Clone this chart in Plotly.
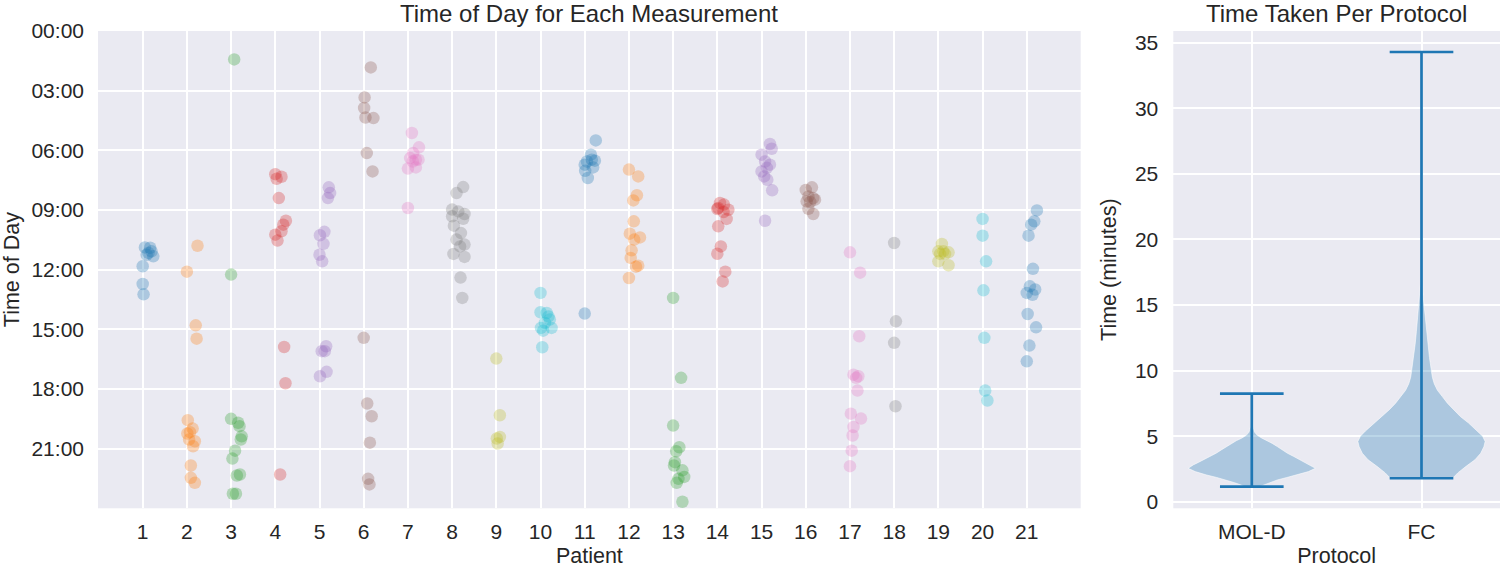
import plotly.graph_objects as go

# ---------------- data: time of day (hours) per patient ----------------
patients = list(range(1, 22))

t_p01 = [10.88, 10.90, 11.08, 11.16, 11.25, 11.33, 11.83, 12.72, 13.24]
t_p02 = [10.80, 12.10, 14.80, 15.47, 19.57, 19.99, 20.17, 20.24, 20.54, 20.63, 20.88, 21.85, 22.47, 22.72]
t_p03 = [1.43, 12.25, 19.50, 19.70, 19.87, 20.38, 20.54, 21.10, 21.50, 22.30, 22.35, 23.27, 23.27]
t_p04 = [7.20, 7.33, 7.43, 8.40, 9.54, 9.74, 10.07, 10.24, 10.54, 15.89, 17.71, 22.30]
t_p05 = [7.86, 8.15, 8.40, 10.10, 10.27, 10.70, 11.25, 11.58, 15.85, 16.10, 16.10, 17.14, 17.36]
t_p06 = [1.83, 3.34, 3.87, 4.35, 4.38, 6.14, 7.06, 15.43, 18.73, 19.37, 20.70, 22.52, 22.80]
t_p07 = [5.13, 5.85, 6.14, 6.39, 6.47, 6.56, 6.47, 6.92, 6.86, 8.90]
t_p08 = [7.85, 8.15, 8.98, 9.07, 9.20, 9.32, 9.44, 9.79, 10.16, 10.49, 10.74, 10.83, 11.21, 11.36, 12.40, 13.42]
t_p09 = [16.47, 19.32, 20.41, 20.49, 20.74]
t_p10 = [13.17, 14.14, 14.18, 14.35, 14.51, 14.68, 14.93, 14.93, 15.07, 15.90]
t_p11 = [5.50, 6.22, 6.47, 6.52, 6.56, 6.72, 6.86, 7.03, 7.39, 14.21]
t_p12 = [6.97, 7.31, 8.26, 8.52, 9.57, 10.19, 10.38, 10.49, 11.03, 11.41, 11.80, 11.85, 12.42]
t_p13 = [13.42, 17.44, 19.84, 20.93, 21.13, 21.68, 21.85, 22.09, 22.42, 22.52, 22.72, 23.67]
t_p14 = [8.65, 8.73, 8.90, 8.95, 8.99, 9.10, 9.45, 9.82, 10.83, 11.20, 12.10, 12.59]
t_p15 = [5.68, 5.92, 6.22, 6.56, 6.72, 6.88, 7.06, 7.31, 7.48, 8.01, 9.54]
t_p16 = [7.86, 7.99, 8.32, 8.40, 8.48, 8.60, 8.57, 8.94, 9.20]
t_p17 = [11.13, 12.15, 15.35, 17.28, 17.36, 17.44, 18.08, 19.24, 19.49, 19.91, 20.34, 21.10, 21.88]
t_p18 = [10.66, 14.60, 15.68, 18.87]
t_p19 = [10.71, 11.08, 11.08, 11.13, 11.21, 11.21, 11.58, 11.78]
t_p20 = [9.45, 10.29, 11.58, 13.04, 15.43, 18.08, 18.58]
t_p21 = [9.02, 9.57, 9.74, 10.29, 11.96, 12.84, 13.00, 13.17, 13.26, 14.23, 14.90, 15.82, 16.61]

# horizontal strip jitter (in patient units)
j_p01 = [0.05, 0.17, 0.20, 0.13, 0.09, 0.24, 0.00, 0.00, 0.02]
j_p02 = [0.24, 0.00, 0.20, 0.22, 0.02, 0.13, 0.07, 0.01, 0.05, 0.18, 0.14, 0.09, 0.09, 0.18]
j_p03 = [0.07, 0.00, 0.00, 0.16, 0.19, 0.24, 0.22, 0.09, 0.03, 0.20, 0.13, 0.04, 0.11]
j_p04 = [0.00, 0.14, 0.03, 0.08, 0.24, 0.18, 0.14, 0.00, 0.05, 0.20, 0.23, 0.11]
j_p05 = [0.21, 0.24, 0.19, 0.11, 0.01, 0.09, 0.00, 0.06, 0.15, 0.05, 0.12, 0.16, 0.01]
j_p06 = [0.16, 0.02, 0.01, 0.04, 0.22, 0.07, 0.20, 0.00, 0.08, 0.18, 0.14, 0.10, 0.13]
j_p07 = [0.09, 0.25, 0.12, 0.05, 0.18, 0.11, 0.24, 0.00, 0.18, 0.00]
j_p08 = [0.25, 0.10, 0.00, 0.14, 0.28, 0.00, 0.25, 0.04, 0.20, 0.10, 0.28, 0.18, 0.03, 0.28, 0.19, 0.23]
j_p09 = [0.00, 0.08, 0.08, 0.01, 0.03]
j_p10 = [0.00, 0.00, 0.14, 0.18, 0.21, 0.10, 0.01, 0.25, 0.06, 0.04]
j_p11 = [0.25, 0.14, 0.16, 0.23, 0.05, 0.00, 0.19, 0.01, 0.07, 0.00]
j_p12 = [0.00, 0.21, 0.18, 0.10, 0.11, 0.02, 0.25, 0.12, 0.06, 0.04, 0.21, 0.16, 0.00]
j_p13 = [0.00, 0.18, 0.00, 0.14, 0.07, 0.04, 0.02, 0.21, 0.25, 0.12, 0.08, 0.21]
j_p14 = [0.06, 0.15, 0.02, 0.00, 0.25, 0.14, 0.21, 0.02, 0.08, 0.00, 0.18, 0.12]
j_p15 = [0.19, 0.23, 0.00, 0.08, 0.19, 0.12, 0.00, 0.06, 0.13, 0.24, 0.08]
j_p16 = [0.14, 0.00, 0.06, 0.17, 0.21, 0.10, 0.02, 0.06, 0.17]
j_p17 = [0.00, 0.23, 0.21, 0.08, 0.19, 0.14, 0.17, 0.02, 0.25, 0.08, 0.06, 0.04, 0.00]
j_p18 = [0.00, 0.04, 0.00, 0.03]
j_p19 = [0.08, 0.00, 0.11, 0.23, 0.04, 0.15, 0.00, 0.23]
j_p20 = [0.00, 0.00, 0.08, 0.02, 0.04, 0.06, 0.11]
j_p21 = [0.23, 0.17, 0.10, 0.04, 0.14, 0.07, 0.19, 0.00, 0.13, 0.02, 0.21, 0.06, 0.00]

times = [t_p01, t_p02, t_p03, t_p04, t_p05, t_p06, t_p07, t_p08, t_p09, t_p10, t_p11,
         t_p12, t_p13, t_p14, t_p15, t_p16, t_p17, t_p18, t_p19, t_p20, t_p21]
jitters = [j_p01, j_p02, j_p03, j_p04, j_p05, j_p06, j_p07, j_p08, j_p09, j_p10, j_p11,
           j_p12, j_p13, j_p14, j_p15, j_p16, j_p17, j_p18, j_p19, j_p20, j_p21]

hour_ticks = [0, 3, 6, 9, 12, 15, 18, 21]
hour_labels = ["00:00", "03:00", "06:00", "09:00", "12:00", "15:00", "18:00", "21:00"]

# ---------------- data: time taken per protocol (minutes) ----------------
protocols = ["MOL-D", "FC"]
protocol_min = [1.15, 1.79]
protocol_max = [8.25, 34.3]

# density profiles (relative, max = 1)
mold_level = [1.15, 1.28, 1.45, 1.66, 1.85, 2.04, 2.30, 2.55, 2.81, 3.00, 3.19, 3.45, 3.70,
              3.95, 4.21, 4.45, 4.65, 4.85, 5.05, 5.30, 5.70, 6.20, 7.00, 8.25]
mold_density = [0.12, 0.17, 0.27, 0.40, 0.55, 0.71, 0.89, 1.00, 0.92, 0.84, 0.76, 0.66, 0.56,
                0.48, 0.40, 0.32, 0.245, 0.16, 0.09, 0.045, 0.02, 0.012, 0.008, 0.005]
fc_level = [1.79, 2.2, 2.7, 3.2, 3.7, 4.2, 4.6, 5.0, 5.4, 6.0, 6.5, 7.0, 7.5, 8.0, 8.5, 9.0,
            9.5, 10.0, 11.0, 12.0, 13.0, 14.0, 15.0, 16.0, 17.0, 20.0, 25.0, 30.0, 34.3]
fc_density = [0.49, 0.57, 0.70, 0.84, 0.93, 0.98, 1.00, 0.96, 0.88, 0.74, 0.61, 0.51, 0.41,
              0.33, 0.25, 0.20, 0.17, 0.155, 0.125, 0.10, 0.08, 0.06, 0.04, 0.02, 0.01,
              0.006, 0.004, 0.003, 0.002]

# ---------------- style ----------------
TAB10 = ["#1f77b4", "#ff7f0e", "#2ca02c", "#d62728", "#9467bd",
         "#8c564b", "#e377c2", "#7f7f7f", "#bcbd22", "#17becf"]
FONT = "Arial, 'Liberation Sans', sans-serif"
TXT = "#262626"
BG = "#EAEAF2"
GRIDW = 1.7
VIOLIN_HALF = 0.375   # widths = 0.75
CAP_HALF = 0.1875

fig = go.Figure()

# strip plot
for i, (p, ts, js) in enumerate(zip(patients, times, jitters)):
    fig.add_trace(go.Scatter(
        x=[p + j for j in js], y=ts, mode="markers",
        marker=dict(size=12.5, color=TAB10[i % 10], opacity=0.3, line=dict(width=0)),
        xaxis="x", yaxis="y", showlegend=False, hoverinfo="x+y"))

# violins
profiles = [(mold_level, mold_density), (fc_level, fc_density)]
for k, (lev, den) in enumerate(profiles):
    pos = k + 1
    xs = [pos - d * VIOLIN_HALF for d in den] + [pos + d * VIOLIN_HALF for d in den[::-1]]
    ys = lev + lev[::-1]
    fig.add_trace(go.Scatter(
        x=xs, y=ys, mode="lines", fill="toself",
        fillcolor="rgba(31,119,180,0.3)",
        line=dict(color="rgba(255,255,255,0.55)", width=1),
        xaxis="x2", yaxis="y2", showlegend=False, hoverinfo="skip"))

# extrema bars
for k in range(len(protocols)):
    pos = k + 1
    mn, mx = protocol_min[k], protocol_max[k]
    fig.add_trace(go.Scatter(
        x=[pos - CAP_HALF, pos + CAP_HALF, None, pos - CAP_HALF, pos + CAP_HALF, None, pos, pos],
        y=[mn, mn, None, mx, mx, None, mn, mx],
        mode="lines", line=dict(color="#1f77b4", width=2.7),
        xaxis="x2", yaxis="y2", showlegend=False, hoverinfo="skip"))

W, H = 1500, 568
top_px, bot_px = 31.0, 508.3
ydom = [1 - bot_px / H, 1 - top_px / H]

axis_common = dict(showgrid=True, gridcolor="white", gridwidth=GRIDW, zeroline=False,
                   showline=False, ticks="", automargin=False,
                   tickfont=dict(size=21, color=TXT, family=FONT))

fig.update_layout(
    width=W, height=H, margin=dict(l=0, r=0, t=0, b=0, autoexpand=False),
    paper_bgcolor="white", plot_bgcolor=BG,
    font=dict(family=FONT, color=TXT),
    xaxis=dict(domain=[98.0 / W, 1080.7 / W], range=[-0.011, 22.22], anchor="y",
               tickmode="array", tickvals=patients, ticktext=[str(p) for p in patients],
               ticklabelstandoff=9,
               title=dict(text="Patient", font=dict(size=21.5, color=TXT), standoff=11),
               **axis_common),
    yaxis=dict(domain=ydom, range=[24, 0], anchor="x",
               tickmode="array", tickvals=hour_ticks, ticktext=hour_labels,
               ticklabelstandoff=13,
               title=dict(text="Time of Day", font=dict(size=21.5, color=TXT), standoff=5),
               **axis_common),
    xaxis2=dict(domain=[1173.3 / W, 1.0], range=[0.5375, 2.4625], anchor="y2",
                tickmode="array", tickvals=[1, 2], ticktext=protocols,
                ticklabelstandoff=9,
                title=dict(text="Protocol", font=dict(size=21.5, color=TXT), standoff=12),
                **axis_common),
    yaxis2=dict(domain=ydom, range=[-0.5, 35.9], anchor="x2",
                tickmode="array", tickvals=[0, 5, 10, 15, 20, 25, 30, 35],
                ticktext=[str(v) for v in [0, 5, 10, 15, 20, 25, 30, 35]],
                ticklabelstandoff=14,
                title=dict(text="Time (minutes)", font=dict(size=21.5, color=TXT), standoff=12),
                **axis_common),
    annotations=[
        dict(text="Time of Day for Each Measurement", xref="paper", yref="paper",
             x=589.4 / W, y=1 - 14 / H, xanchor="center", yanchor="middle",
             showarrow=False, font=dict(size=24, color=TXT, family=FONT)),
        dict(text="Time Taken Per Protocol", xref="paper", yref="paper",
             x=1336.7 / W, y=1 - 14 / H, xanchor="center", yanchor="middle",
             showarrow=False, font=dict(size=24, color=TXT, family=FONT)),
    ],
)

fig.write_html("out.html")
